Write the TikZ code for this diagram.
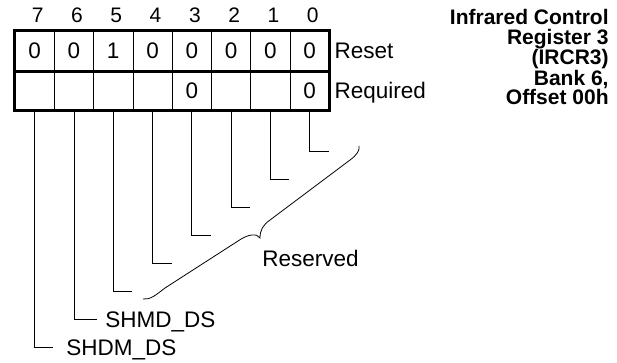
\documentclass[tikz,border=0pt]{standalone}
\usepackage{fontspec}
\setmainfont{Liberation Sans}
\usepackage{tikz}

\begin{document}
\begin{tikzpicture}[x=1pt, y=-1pt, line width=0.8pt,
    every node/.style={font=\fontsize{22.5}{24}\selectfont, inner sep=2pt},
    cell/.style={draw, minimum width=39.3pt, minimum height=39.7pt, inner sep=0pt},
    bitnum/.style={font=\fontsize{21}{22}\selectfont},
    sig/.style={anchor=west, text depth=0pt}]
  \useasboundingbox (0,0) rectangle (617,363);
  % bitnummers en cellen
  \foreach \b/\r/\q in {7/0/{}, 6/0/{}, 5/1/{}, 4/0/{}, 3/0/0, 2/0/{}, 1/0/{}, 0/0/0} {
    \node[bitnum] (bit\b) at ({18+(7.5-\b)*39.3}, 15) {\b};
    \node[cell] (rst\b) at ({15+(7.5-\b)*39.3}, 50.85) {\r};
    \node[cell] (req\b) at ({15+(7.5-\b)*39.3}, 90.55) {\q};
  }
  % dikke rand
  \draw[line width=3pt] (rst7.north west) rectangle (req0.south east);
  \draw[line width=3pt] (rst7.south west) -- (rst0.south east);
  \node[sig, xshift=2.5pt] (reset) at (rst0.east) {Reset};
  \node[sig, xshift=2.5pt] (required) at (req0.east) {Required};
  % titel
  \node[anchor=north east, align=right, inner sep=0pt,
    font=\bfseries\fontsize{21}{19.5}\selectfont] (title) at (609,9)
    {Infrared Control\\Register 3\\(IRCR3)\\Bank 6,\\Offset 00h};
  % leidingen naar de bits
  \foreach \b in {0,...,5} {
    \coordinate (end\b) at ({15+(7.5-\b)*39.3+19}, {151.7+28*\b});
    \draw (req\b.south) |- (end\b);
  }
  \node[sig] (shmd) at (103,319.7) {SHMD\_DS};
  \node[sig] (shdm) at (64,347.7) {SHDM\_DS};
  \draw (req6.south) |- ([xshift=-6pt]shmd.west);
  \draw (req7.south) |- ([xshift=-11pt]shdm.west);
  % accolade gereserveerd
  \draw (143,299) .. controls (150,300) and (156,295) .. (165,288) -- (238,241)
    .. controls (248,234) and (257,233) .. (260,238)
    .. controls (260,230) and (263,225) .. (270,220) -- (350,160)
    .. controls (357,155) and (360,150) .. (359,146);
  \node[sig] (resv) at (260,258) {Reserved};
\end{tikzpicture}
\end{document}
